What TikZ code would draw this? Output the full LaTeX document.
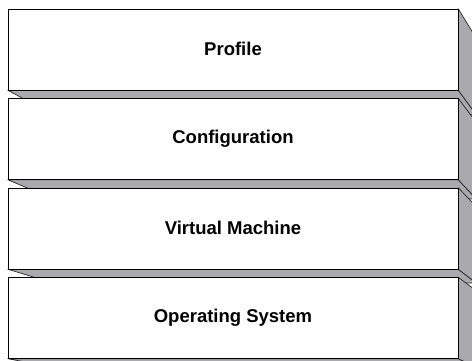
\documentclass[tikz,border=0pt]{standalone}
\usepackage{fontspec}
\setmainfont{Liberation Sans}
\usetikzlibrary{calc}
\definecolor{slabgray}{RGB}{170,170,174}
\tikzset{
  front/.style={draw=black, line width=0.9pt, fill=white, minimum width=450pt, minimum height=81pt, inner sep=0pt, font=\fontsize{18.5}{22}\selectfont\bfseries},
  hidden/.style={minimum width=450pt, minimum height=81pt, inner sep=0pt}
}
\newcommand{\slab}[1]{%
  \fill[slabgray, draw=black!85, line width=0.7pt, line join=round] (#1.south west) -- ($(#1.south west)!0.06!(V)$) -- ($(#1.south east)!0.06!(V)$) -- (#1.south east) -- cycle;
  \fill[slabgray, draw=black!85, line width=0.7pt, line join=round] (#1.north east) -- ($(#1.north east)!0.06!(V)$) -- ($(#1.south east)!0.06!(V)$) -- (#1.south east) -- cycle;
}
\begin{document}
\begin{tikzpicture}[x=1pt, y=-1pt]
\useasboundingbox (0,0) rectangle (472,361);
\clip (0,0) rectangle (472,361);
\fill[white] (0,0) rectangle (472,361);
\coordinate (V) at (760,500);
% box 1
\node[hidden] at (233,49.5) (profile) {};
\slab{profile}
\node[front] at (233,49.5) (profileF) {\raisebox{2pt}{Profile}};
% box 2
\node[hidden] at (233,139) (config) {};
\slab{config}
\node[front] at (233,139) (configF) {\raisebox{2pt}{Configuration}};
% box 3
\node[hidden] at (233,228.5) (vm) {};
\slab{vm}
\node[front] at (233,228.5) (vmF) {\raisebox{2pt}{Virtual Machine}};
% box 4
\node[hidden] at (233,318) (os) {};
\slab{os}
\node[front] at (233,318) (osF) {\raisebox{2pt}{Operating System}};
\end{tikzpicture}
\end{document}
